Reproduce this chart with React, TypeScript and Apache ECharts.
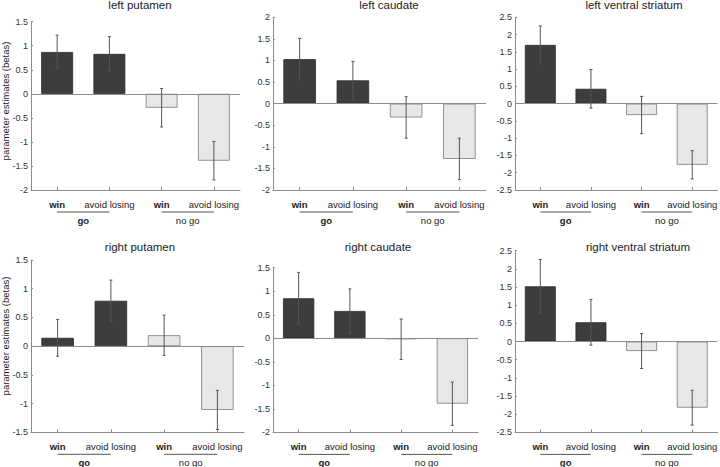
import React, { useEffect, useRef } from "react";
import * as echarts from "echarts";

// ---- data ----
const conditionLabels = ["win", "avoid losing", "win", "avoid losing"];
const groupLabels = ["go", "no go"];
const panelTitles = [
  "left putamen",
  "left caudate",
  "left ventral striatum",
  "right putamen",
  "right caudate",
  "right ventral striatum",
];
const yLabel = "parameter estimates (betas)";

const leftPutamen = [0.87, 0.83, -0.29, -1.39];
const leftPutamenErr = [0.35, 0.36, 0.4, 0.4];
const leftCaudate = [1.03, 0.54, -0.32, -1.28];
const leftCaudateErr = [0.48, 0.44, 0.48, 0.48];
const leftVS = [1.7, 0.43, -0.33, -1.77];
const leftVSErr = [0.55, 0.56, 0.54, 0.41];
const rightPutamen = [0.145, 0.79, 0.19, -1.11];
const rightPutamenErr = [0.32, 0.36, 0.35, 0.34];
const rightCaudate = [0.85, 0.58, -0.02, -1.39];
const rightCaudateErr = [0.55, 0.47, 0.43, 0.46];
const rightVS = [1.52, 0.53, -0.26, -1.82];
const rightVSErr = [0.74, 0.63, 0.48, 0.48];

const yMins = [-2, -2, -2.5, -1.5, -2, -2.5];
const yMaxs = [1.5, 2, 2.5, 1.5, 1.5, 2.5];

const panelValues = [leftPutamen, leftCaudate, leftVS, rightPutamen, rightCaudate, rightVS];
const panelErrors = [leftPutamenErr, leftCaudateErr, leftVSErr, rightPutamenErr, rightCaudateErr, rightVSErr];

// ---- layout ----
const grids = [
  { left: 31, top: 21.7, width: 209, height: 168.3 },
  { left: 273, top: 17.3, width: 213, height: 172.7 },
  { left: 515, top: 17.3, width: 205, height: 172.7 },
  { left: 31, top: 260, width: 213, height: 172.3 },
  { left: 273, top: 267.7, width: 205, height: 164.7 },
  { left: 515, top: 250.7, width: 205, height: 181.7 },
];
const titlePos = [
  [140, 5],
  [389, 5],
  [634, 5],
  [140, 246.7],
  [378, 246.7],
  [638, 246.7],
];
const yLabelPos = [
  [5, 101],
  [5, 336],
];

const DARK = "#3d3d3d";
const LIGHT = "#e7e7e7";
const FONT = "'Liberation Sans', Arial, sans-serif";

export default function App() {
  const ref = useRef<HTMLDivElement>(null);
  useEffect(() => {
    if (!ref.current) return;
    const chart = echarts.init(ref.current, null, { renderer: "svg" });

    const grid: any[] = [];
    const xAxis: any[] = [];
    const yAxis: any[] = [];
    const series: any[] = [];
    const graphic: any[] = [];

    panelValues.forEach((vals, p) => {
      const g = grids[p];
      grid.push({ left: g.left, top: g.top, width: g.width, height: g.height, containLabel: false });
      xAxis.push({
        type: "category",
        gridIndex: p,
        data: ["0", "1", "2", "3"],
        axisLine: { onZero: false, lineStyle: { color: "#8c8c8c", width: 1 } },
        axisTick: { show: true, inside: true, alignWithLabel: true, length: 3, lineStyle: { color: "#8c8c8c" } },
        axisLabel: {
          interval: 0,
          hideOverlap: false,
          margin: 9,
          fontFamily: FONT,
          fontSize: 9.5,
          color: "#222",
          formatter: (_v: string, i: number) =>
            conditionLabels[i] === "win" ? `{b|${conditionLabels[i]}}` : `{n|${conditionLabels[i]}}`,
          rich: {
            b: { fontWeight: "bold", fontSize: 9.5, fontFamily: FONT, color: "#222" },
            n: { fontWeight: "normal", fontSize: 9.5, fontFamily: FONT, color: "#222" },
          },
        },
        splitLine: { show: false },
      });
      yAxis.push({
        type: "value",
        gridIndex: p,
        min: yMins[p],
        max: yMaxs[p],
        interval: 0.5,
        axisLine: { show: true, lineStyle: { color: "#8c8c8c", width: 1 } },
        axisTick: { show: true, inside: true, length: 2, lineStyle: { color: "#8c8c8c" } },
        axisLabel: { margin: 3, fontFamily: FONT, fontSize: 9, color: "#333" },
        splitLine: { show: false },
      });

      series.push({
        type: "bar",
        xAxisIndex: p,
        yAxisIndex: p,
        barWidth: "61%",
        data: vals.map((v, i) => ({
          value: v,
          itemStyle:
            i < 2
              ? { color: DARK, borderColor: "#2a2a2a", borderWidth: 0.8 }
              : { color: LIGHT, borderColor: "#7a7a7a", borderWidth: 0.8 },
        })),
        markLine: {
          silent: true,
          symbol: "none",
          label: { show: false },
          lineStyle: { color: "#8c8c8c", width: 1, type: "solid" },
          data: [{ yAxis: 0 }],
        },
        z: 2,
      });

      const errs = panelErrors[p];
      series.push({
        type: "custom",
        xAxisIndex: p,
        yAxisIndex: p,
        data: vals.map((v, i) => [i, v - errs[i], v + errs[i]]),
        encode: { x: 0, y: [1, 2] },
        z: 5,
        renderItem: (_params: any, api: any) => {
          const x = api.value(0);
          const lo = api.coord([x, api.value(1)]);
          const hi = api.coord([x, api.value(2)]);
          const st = { stroke: "#555", lineWidth: 1 };
          const cap = 1.5;
          return {
            type: "group",
            children: [
              { type: "line", shape: { x1: lo[0], y1: lo[1], x2: hi[0], y2: hi[1] }, style: st },
              { type: "line", shape: { x1: lo[0] - cap, y1: lo[1], x2: lo[0] + cap, y2: lo[1] }, style: st },
              { type: "line", shape: { x1: hi[0] - cap, y1: hi[1], x2: hi[0] + cap, y2: hi[1] }, style: st },
            ],
          };
        },
      });

      const yMin = yMins[p];
      series.push({
        type: "custom",
        xAxisIndex: p,
        yAxisIndex: p,
        data: [
          [0, yMin],
          [2, yMin],
        ],
        encode: { x: 0, y: 1 },
        clip: false,
        z: 5,
        renderItem: (params: any, api: any) => {
          const c = api.value(0);
          const a = api.coord([c, yMin]);
          const b = api.coord([c + 1, yMin]);
          const gi = params.dataIndex;
          return {
            type: "group",
            children: [
              {
                type: "line",
                shape: { x1: a[0], y1: a[1] + 22, x2: b[0], y2: a[1] + 22 },
                style: { stroke: "#555", lineWidth: 1 },
              },
              {
                type: "text",
                x: (a[0] + b[0]) / 2,
                y: a[1] + 30,
                style: {
                  text: groupLabels[gi],
                  textAlign: "center",
                  textVerticalAlign: "middle",
                  fontSize: 9.5,
                  fontFamily: FONT,
                  fontWeight: gi === 0 ? "bold" : "normal",
                  fill: "#222",
                },
              },
            ],
          };
        },
      });

      graphic.push({
        type: "text",
        x: titlePos[p][0],
        y: titlePos[p][1],
        style: {
          text: panelTitles[p],
          textAlign: "center",
          textVerticalAlign: "middle",
          fontSize: 11.5,
          fontFamily: FONT,
          fill: "#222",
        },
      });
    });

    yLabelPos.forEach((pos) => {
      graphic.push({
        type: "text",
        x: pos[0],
        y: pos[1],
        rotation: Math.PI / 2,
        style: {
          text: yLabel,
          textAlign: "center",
          textVerticalAlign: "middle",
          fontSize: 9.5,
          fontFamily: FONT,
          fill: "#222",
        },
      });
    });

    chart.setOption({
      animation: false,
      backgroundColor: "#ffffff",
      grid,
      xAxis,
      yAxis,
      series,
      graphic,
    });
    return () => chart.dispose();
  }, []);

  return (
    <div
      ref={ref}
      style={{ position: "fixed", left: 0, top: 0, width: 720, height: 467, background: "#fff" }}
    />
  );
}
